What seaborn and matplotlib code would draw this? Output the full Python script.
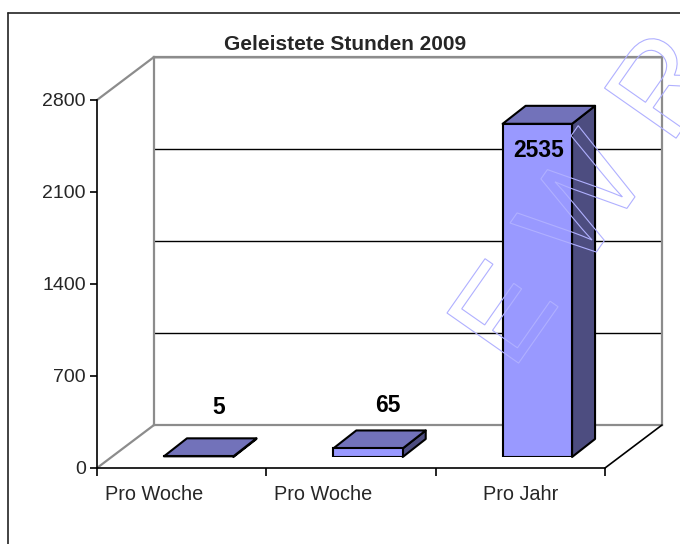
import matplotlib
matplotlib.use("Agg")
import matplotlib.pyplot as plt
import seaborn as sns
import pandas as pd
from matplotlib.patches import Polygon, PathPatch
from matplotlib.lines import Line2D
from matplotlib.textpath import TextPath, text_to_path
from matplotlib.font_manager import FontProperties
from matplotlib.transforms import (Affine2D, IdentityTransform, ScaledTranslation,
                                   blended_transform_factory)
from matplotlib.path import Path

# ---- data ----
categories = ["Pro Woche", "Pro Woche", "Pro Jahr"]
values = [5, 65, 2535]
yticks = [0, 700, 1400, 2100, 2800]
title = "Geleistete Stunden 2009"
watermark = "EWR"

sns.set_style("white")
plt.rcParams["font.family"] = ["Liberation Sans", "DejaVu Sans"]

W, H = 680, 544
fig = plt.figure(figsize=(W / 100, H / 100), dpi=100)
fig.patch.set_facecolor("white")


def rect(x0, y_top, x1, y_bot):
    return [x0 / W, 1 - y_bot / H, (x1 - x0) / W, (y_bot - y_top) / H]


FX0, FX1, FYT, FYB = 97, 605, 100, 468      # front plane
BDX, BDY = 57, 43                            # back wall offset
PDX, PDY = 17, 11                            # bar plane offset
DDX, DDY = 23, 18                            # bar depth
XLIM = (-0.5, len(values) - 0.5)
YLIM = (yticks[0], yticks[-1])
GRAY = "#8c8c8c"

# ---- back wall ----
axb = fig.add_axes(rect(FX0 + BDX, FYT - BDY, FX1 + BDX, FYB - BDY))
axb.set_xlim(*XLIM)
axb.set_ylim(*YLIM)
axb.set_yticks(yticks)
axb.set_xticks([])
axb.tick_params(length=0, labelleft=False, labelbottom=False)
axb.grid(axis="y", color="black", lw=1)
for s in axb.spines.values():
    s.set_color(GRAY)
    s.set_linewidth(1.6)
    s.set_visible(True)
axb.set_facecolor("white")
axb.set_zorder(1)


def fline(p, q, color, lw=1.6, z=2):
    fig.add_artist(Line2D([p[0] / W, q[0] / W], [1 - p[1] / H, 1 - q[1] / H],
                          transform=fig.transFigure, color=color, lw=lw, zorder=z))


fline((FX0, FYT), (FX0 + BDX, FYT - BDY), GRAY)
fline((FX0, FYB), (FX0 + BDX, FYB - BDY), GRAY)
fline((FX1, FYB), (FX1 + BDX, FYB - BDY), "black", lw=1.2)

# outer border
fline((8, 13), (W + 5, 13), "#222222", lw=1.2, z=0.5)
fline((8, 13), (8, H + 5), "#222222", lw=1.2, z=0.5)

# ---- bars (bar plane) ----
axp = fig.add_axes(rect(FX0 + PDX, FYT - PDY, FX1 + PDX, FYB - PDY))
axp.set_zorder(3)
axp.patch.set_alpha(0)
df = pd.DataFrame({"slot": [str(i) for i in range(len(values))], "value": values})
sns.barplot(data=df, x="slot", y="value", color="#9999FF", saturation=1,
            width=0.41, edgecolor="black", linewidth=1.5, ax=axp)
axp.set_xlim(*XLIM)
axp.set_ylim(*YLIM)
axp.axis("off")

TOP = "#7272BA"
SIDE = "#4D4D80"
for p in list(axp.patches):
    x, y, w, h = p.get_x(), p.get_y(), p.get_width(), p.get_height()
    (xl, yb), (xr, yt) = axp.transData.transform([(x, y), (x + w, y + h)])
    top = Polygon([(xl, yt), (xr, yt), (xr + DDX, yt + DDY), (xl + DDX, yt + DDY)],
                  closed=True, facecolor=TOP, edgecolor="black", lw=1.5,
                  transform=IdentityTransform(), clip_on=False, zorder=4, joinstyle="round")
    side = Polygon([(xr, yb), (xr + DDX, yb + DDY), (xr + DDX, yt + DDY), (xr, yt)],
                   closed=True, facecolor=SIDE, edgecolor="black", lw=1.5,
                   transform=IdentityTransform(), clip_on=False, zorder=4, joinstyle="round")
    axp.add_artist(side)
    axp.add_artist(top)
    p.set_zorder(5)

# value labels
for i, v in enumerate(values):
    if v + 330 < YLIM[1]:
        ly = max(v + 330, 380)
        xd, yd = axp.transData.transform((i, ly))
        xd += 20
    else:
        ly = v - 200
        xd, yd = axp.transData.transform((i, ly))
        xd += 1
    axp.text(xd, yd, str(v), transform=IdentityTransform(), ha="center", va="center",
             fontsize=16.5, fontweight="bold", color="black", zorder=6)

# ---- front axes ----
axf = fig.add_axes(rect(FX0, FYT, FX1, FYB))
axf.set_zorder(2)
axf.patch.set_alpha(0)
axf.set_xlim(*XLIM)
axf.set_ylim(*YLIM)
for k in ("top", "right"):
    axf.spines[k].set_visible(False)
for k in ("left", "bottom"):
    axf.spines[k].set_color("black")
    axf.spines[k].set_linewidth(1.2)
axf.set_yticks(yticks)
axf.set_yticklabels([str(t) for t in yticks])
axf.set_xticks([i - 0.5 for i in range(len(values) + 1)])
axf.set_xticklabels([])
axf.tick_params(axis="y", direction="out", length=5, width=1.2, color="black",
                labelsize=14, pad=3, left=True)
axf.tick_params(axis="x", which="major", direction="out", length=6, width=1.2,
                color="black", bottom=True)

# category labels (the two left labels sit nudged toward the left)
label_nudge_px = [-28, -28, 0]
blend = blended_transform_factory(axf.transData, axf.transAxes)
for i, cat in enumerate(categories):
    off = ScaledTranslation(label_nudge_px[i] / 100, -26 / 100, fig.dpi_scale_trans)
    axf.text(i, 0, cat, transform=blend + off, ha="center", va="center",
             fontsize=14.3, clip_on=False)

# title
fig.text(345 / W, 1 - 44 / H, title, ha="center", va="center",
         fontsize=15, fontweight="bold")

# ---- watermark outline (letter-spaced) ----
fp = FontProperties(family="Liberation Sans")
size = 127
tracking = 35
ext0 = TextPath((0, 0), watermark[0], size=size, prop=fp).get_extents()
verts, codes = [], []
pen = 0.0
for ch in watermark:
    tp = TextPath((pen, 0), ch, size=size, prop=fp)
    verts.extend(tp.vertices.tolist())
    codes.extend(tp.codes.tolist())
    w_adv, _, _ = text_to_path.get_text_width_height_descent(ch, fp.copy(), ismath=False)
    pen += w_adv * size / fp.get_size_in_points() + tracking
wm_path = Path(verts, codes)
tr = Affine2D().translate(-ext0.x0, -ext0.y1).rotate_deg(55).translate(447, H - 313)
fig.add_artist(PathPatch(wm_path, transform=tr, facecolor="none", edgecolor="#b0b0ff",
                         lw=0.8, zorder=20))

fig.savefig("out.png", dpi=100)
